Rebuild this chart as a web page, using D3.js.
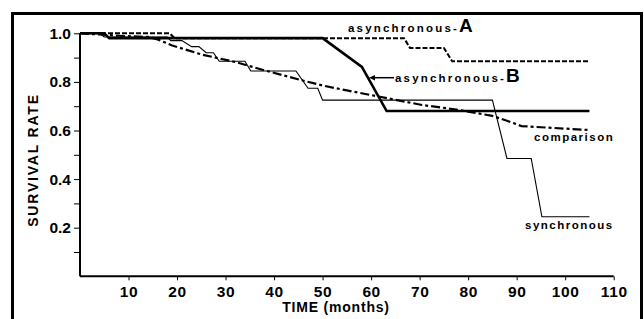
<!DOCTYPE html>
<html><head><meta charset="utf-8">
<script src="https://cdn.jsdelivr.net/npm/d3@7"></script>
<style>body{margin:0;background:#fff}svg{display:block}text{font-family:"Liberation Sans",Arial,sans-serif;font-weight:bold;fill:#000}</style>
</head><body><svg id="c" width="644" height="319"></svg>
<script>
const xTicks = [10,20,30,40,50,60,70,80,90,100,110];
const yTicks = [0.1,0.2,0.3,0.4,0.5,0.6,0.7,0.8,0.9,1.0];
const asyncA = [[0,1.0],[18.5,1.0],[19.5,0.98],[66.8,0.98],[68,0.94],[75,0.94],[76.7,0.885],[105,0.885]];
const asyncB = [[0,1.0],[5,1.0],[6,0.98],[50,0.98],[58.1,0.862],[63.2,0.68],[105,0.68]];
const synchronous = [[0,1.0],[4,1.0],[5,0.985],[18,0.985],[18.7,0.97],[21,0.97],[23,0.945],[24.5,0.945],[26,0.92],[27.5,0.92],[28.7,0.885],[34,0.885],[35.2,0.845],[44.5,0.845],[47,0.774],[49,0.774],[50,0.725],[85,0.725],[88,0.485],[93,0.485],[95.2,0.245],[105,0.245]];
const comparison = [[0,1.0],[8,0.99],[14,0.985],[16,0.975],[19,0.95],[25,0.913],[32,0.882],[38.5,0.845],[45.5,0.808],[50,0.785],[55,0.765],[61.5,0.74],[70.5,0.705],[78,0.685],[85,0.66],[88,0.64],[91,0.618],[105,0.602]];

const svg = d3.select("#c");
const x = d3.scaleLinear().domain([0,110]).range([80,613.7]);
const y = d3.scaleLinear().domain([0,1]).range([276.3,33.3]);

// outer frame
svg.append("rect").attr("x",12.5).attr("y",13.5).attr("width",629).attr("height",360)
  .attr("fill","none").attr("stroke","#000").attr("stroke-width",3);

const xa = svg.append("g").attr("transform","translate(0,276.3)")
  .call(d3.axisBottom(x).tickValues(xTicks).tickSize(4).tickPadding(6).tickSizeOuter(0));
xa.select(".domain").attr("d",`M${x(0)},0H${x(110)}`).attr("stroke-width",2);
xa.selectAll("text").attr("font-size",15.5).attr("font-family","Liberation Sans").attr("font-weight","bold").attr("letter-spacing","0.6px");

const ya = svg.append("g").attr("transform","translate(80,0)")
  .call(d3.axisLeft(y).tickValues(yTicks).tickSize(6).tickPadding(3).tickSizeOuter(0)
    .tickFormat(d => (Math.round(d*10)%2===0) ? d3.format(".1f")(d) : ""));
ya.select(".domain").attr("d",`M0,${y(0)}V${y(1)}`).attr("stroke-width",2);
ya.selectAll("text").attr("font-size",15.5).attr("font-family","Liberation Sans").attr("font-weight","bold");

svg.append("text").attr("transform","translate(37.5,160) rotate(-90)").attr("text-anchor","middle")
  .attr("font-size",14).attr("letter-spacing","1.8px").text("SURVIVAL RATE");
svg.append("text").attr("x",336).attr("y",312).attr("text-anchor","middle")
  .attr("font-size",14).attr("letter-spacing","0.8px").text("TIME (months)");

const line = d3.line().x(d=>x(d[0])).y(d=>y(d[1]));
svg.append("path").datum(comparison).attr("d",line).attr("fill","none").attr("stroke","#000")
  .attr("stroke-width",2.2).attr("stroke-dasharray","9,3,3,3");
svg.append("path").datum(synchronous).attr("d",line).attr("fill","none").attr("stroke","#000").attr("stroke-width",1.1);
svg.append("path").datum(asyncA).attr("d",line).attr("fill","none").attr("stroke","#000")
  .attr("stroke-width",2).attr("stroke-dasharray","5,2");
svg.append("path").datum(asyncB).attr("d",line).attr("fill","none").attr("stroke","#000").attr("stroke-width",2.6);

// labels
function lab(tx, ty, txt, big, ls){
  const t = svg.append("text").attr("x",tx).attr("y",ty).attr("font-size",11.5).attr("letter-spacing",ls+"px");
  t.append("tspan").text(txt);
  if(big) t.append("tspan").attr("font-size",19).attr("letter-spacing","0").text(big);
}
lab(348,32,"asynchronous-","A",2.2);
lab(395,82,"asynchronous-","B",2.2);
lab(534,141,"comparison",null,1.5);
lab(525,229,"synchronous",null,1.5);
// leader for B
svg.append("line").attr("x1",372).attr("y1",77.7).attr("x2",394).attr("y2",77.7).attr("stroke","#000").attr("stroke-width",1.5);
svg.append("path").attr("d","M369,77.7L375,75L375,80.4Z").attr("fill","#000");
</script></body></html>
